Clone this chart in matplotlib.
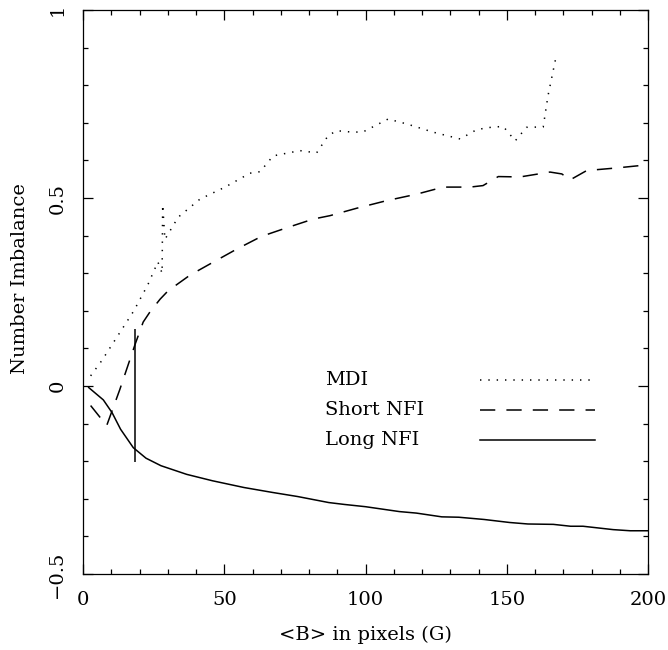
import matplotlib
matplotlib.use("Agg")
import matplotlib.pyplot as plt
from matplotlib.ticker import MultipleLocator

plt.rcParams["font.family"] = ["DejaVu Serif"]
plt.rcParams["lines.scale_dashes"] = False

# MDI (dotted)
mdi_x = [2.7, 6.6, 12, 18, 23, 26.5, 28.0, 28.2, 29.0, 33.7, 41.4, 50.3, 59.1, 62.7,
         67.3, 76.8, 82.7, 86.8, 89.8, 95.6, 99.2, 108, 114.6, 124, 133.5, 139.4,
         145.2, 148.8, 153, 157, 162.9, 164.6, 167.3]
mdi_y = [0.027, 0.067, 0.13, 0.2, 0.27, 0.33, 0.30, 0.482, 0.39, 0.449, 0.497, 0.529,
         0.566, 0.57, 0.612, 0.626, 0.62, 0.666, 0.679, 0.675, 0.676, 0.71, 0.697,
         0.675, 0.657, 0.682, 0.689, 0.69, 0.652, 0.688, 0.689, 0.772, 0.87]

# Short NFI (dashed)
short_x = [2.7, 6.0, 8.4, 13.0, 18.4, 21.3, 23.7, 27.3, 30.1, 37.9, 46, 54.4, 63.2,
           72.6, 81.5, 87.4, 97, 107.5, 118, 127.5, 137, 141.6, 147, 154.7, 165.3,
           169.5, 172.4, 178.3, 189, 199.5]
short_y = [-0.052, -0.083, -0.105, -0.01, 0.11, 0.17, 0.197, 0.231, 0.253, 0.295,
           0.329, 0.364, 0.398, 0.422, 0.444, 0.453, 0.473, 0.493, 0.51, 0.529,
           0.529, 0.533, 0.557, 0.556, 0.569, 0.564, 0.548, 0.573, 0.58, 0.588]

# Long NFI (solid)
long_x = [2, 7.2, 10.3, 13.3, 17.8, 22.3, 27.6, 36.7, 45.8, 57, 67, 76, 87, 92.5, 100,
          112, 118, 127, 133, 142, 151, 157.5, 166.5, 172.6, 177, 187.7, 193.7, 200]
long_y = [-0.004, -0.037, -0.071, -0.115, -0.164, -0.192, -0.212, -0.235, -0.252,
          -0.27, -0.283, -0.294, -0.31, -0.315, -0.321, -0.334, -0.338, -0.348,
          -0.349, -0.355, -0.363, -0.367, -0.368, -0.373, -0.373, -0.382, -0.385,
          -0.385]

# vertical marker bar
bar_x = 18.4
bar_lo, bar_hi = -0.202, 0.152

x_ticks = [0, 50, 100, 150, 200]
x_labels = ["0", "50", "100", "150", "200"]
y_ticks = [-0.5, 0, 0.5, 1]
y_labels = ["\u22120.5", "0", "0.5", "1"]

legend_names = ["MDI", "Short NFI", "Long NFI"]

fig = plt.figure(figsize=(6.68, 6.5), dpi=100)
ax = fig.add_axes([83 / 668, 1 - 574 / 650, 565 / 668, 564 / 650])

lw = 1.1
l1, = ax.plot(mdi_x, mdi_y, color="black", lw=lw, dashes=(1, 5))
l2, = ax.plot(short_x, short_y, color="black", lw=lw, dashes=(11, 8))
l3, = ax.plot(long_x, long_y, color="black", lw=lw)
ax.vlines(bar_x, bar_lo, bar_hi, color="black", lw=lw)

ax.set_xlim(0, 200)
ax.set_ylim(-0.5, 1)
ax.set_xticks(x_ticks)
ax.set_xticklabels(x_labels)
ax.set_yticks(y_ticks)
ax.set_yticklabels(y_labels, rotation=90, va="center")
ax.xaxis.set_minor_locator(MultipleLocator(10))
ax.yaxis.set_minor_locator(MultipleLocator(0.1))
ax.tick_params(which="both", direction="in", top=True, right=True, width=0.9)
ax.tick_params(which="major", length=7)
ax.tick_params(which="minor", length=3.5)
ax.tick_params(axis="x", labelsize=14, pad=12)
ax.tick_params(axis="y", labelsize=14, pad=12)
for s in ax.spines.values():
    s.set_linewidth(0.9)

ax.set_xlabel("<B> in pixels (G)", fontsize=14, labelpad=12)
ax.set_ylabel("Number Imbalance", fontsize=14, labelpad=14, y=0.523)

# legend: labels on the left, line samples on the right
rows_y = [0.344, 0.291, 0.238]
styles = [dict(dashes=(1, 5)), dict(dashes=(11, 8)), dict()]
for name, st, yy in zip(legend_names, styles, rows_y):
    ax.text(0.428, yy, name, transform=ax.transAxes, fontsize=14, va="center", ha="left")
    ax.plot([0.703, 0.906], [yy, yy], transform=ax.transAxes, color="black", lw=lw, **st)

fig.savefig("out.png", dpi=100)
